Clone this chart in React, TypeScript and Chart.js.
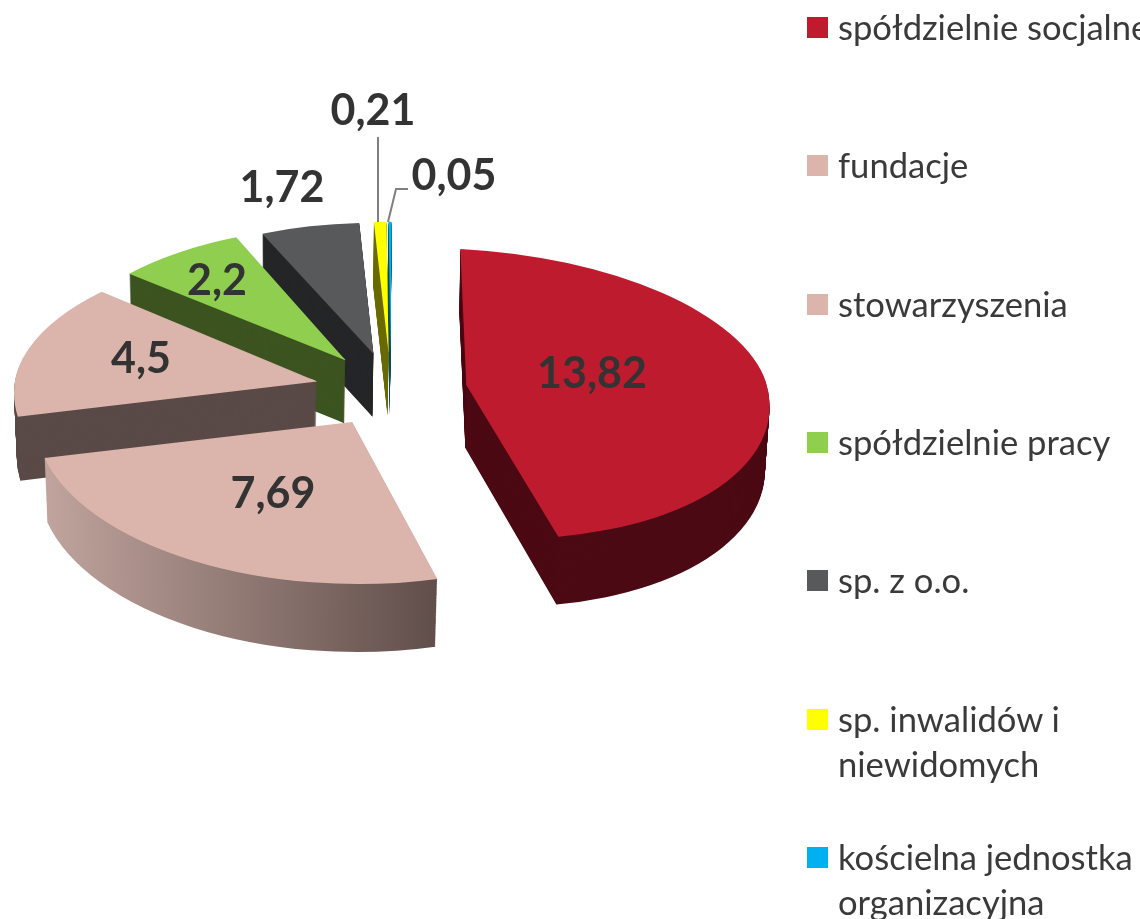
import React, { useEffect, useRef } from "react";
import Chart from "chart.js/auto";

const categories = [
  "spółdzielnie socjalne",
  "fundacje",
  "stowarzyszenia",
  "spółdzielnie pracy",
  "sp. z o.o.",
  "sp. inwalidów i\nniewidomych",
  "kościelna jednostka\norganizacyjna",
];
const values = [13.82, 7.69, 4.5, 2.2, 1.72, 0.21, 0.05];
const topColors = ["#bf1b2f", "#dbb5ac", "#dbb5ac", "#8fce4f", "#58595b", "#ffff00", "#00b0f0"];

// styling of the 3D look
const wallColors: (string | [string, string])[] = [
  "#4c0a14",
  ["#bfa39c", "#5f4d49"],
  "#5a4a47",
  "#3c5420",
  "#252628",
  "#6b6b00",
  "#00506f",
];
const wallGradientSpan = [-0.96, 0.28];
const shapes = [
  { A: 303, Bt: 6, Bb: 13, C: 15, Dt: 136, Db: 153 },
  { A: 317, Bt: 2, Bb: 2, C: 2, Dt: 150, Db: 162 },
  { A: 302, Bt: -24, Bb: -24, C: 1, Dt: 138, Db: 155 },
  { A: 289, Bt: -7, Bb: -7, C: 0, Dt: 134, Db: 150 },
  { A: 280, Bt: -1, Bb: -1, C: 0, Dt: 131, Db: 150 },
  { A: 290, Bt: -1, Bb: -1, C: 0, Dt: 131, Db: 150 },
  { A: 290, Bt: -1, Bb: -1, C: 0, Dt: 131, Db: 150 },
];
const explode = 76;
const explodeSquash = 0.49;
const depth = 63;
const drawOrder = [6, 5, 4, 3, 2, 1, 0];
const labelAnchors = [
  [592, 388],
  [273, 508],
  [141, 373],
  [217, 295],
  [282, 202],
  [373, 125],
  [454, 190],
];
const legendCentres = [27.5, 165.5, 304.5, 442.5, 580.5, 719.5, 857.5];

const pie3d = {
  id: "pie3d",
  beforeDatasetDraw(chart: any) {
    const ctx = chart.ctx as CanvasRenderingContext2D;
    const arcs = chart.getDatasetMeta(0).data;
    const piece = (arc: any, m: number[], upper: boolean) => {
      const R = arc.outerRadius;
      ctx.save();
      ctx.transform(m[0], m[1], m[2], m[3], m[4], m[5]);
      ctx.beginPath();
      if (upper) ctx.rect(arc.x - 2 * R, arc.y - 2 * R, 4 * R, 2 * R);
      else ctx.rect(arc.x - 2 * R, arc.y - 5, 4 * R, 2 * R + 5);
      ctx.clip();
      arc.draw(ctx);
      ctx.restore();
    };
    const matrix = (arc: any, ax: number, ay: number, A: number, B: number, C: number, D: number) => {
      const R = arc.outerRadius;
      const a = A / R, b = C / R, c = B / R, d = D / R;
      return [a, b, c, d, ax - a * arc.x - c * arc.y, ay - b * arc.x - d * arc.y];
    };
    for (const i of drawOrder) {
      const arc = arcs[i];
      const s = shapes[i];
      const mid = (arc.startAngle + arc.endAngle) / 2;
      const ax = arc.x + explode * Math.cos(mid);
      const ay = arc.y + explode * explodeSquash * Math.sin(mid);
      const saved = arc.options;
      const w = wallColors[i];
      let fill: any = w;
      if (Array.isArray(w)) {
        const R = arc.outerRadius;
        const g = ctx.createLinearGradient(arc.x + wallGradientSpan[0] * R, 0, arc.x + wallGradientSpan[1] * R, 0);
        g.addColorStop(0, w[0]);
        g.addColorStop(1, w[1]);
        fill = g;
      }
      arc.options = { ...saved, backgroundColor: fill };
      for (let step = depth; step >= 1; step--) {
        const t = step / depth;
        const A = s.A * (1 - 0.012 * t);
        const sx = ax - t;
        const sy = ay + step;
        piece(arc, matrix(arc, sx, sy, A, s.Bb, s.C, s.Db + 5 * t), false);
        piece(arc, matrix(arc, sx, sy, A, s.Bt, s.C, s.Dt), true);
      }
      arc.options = saved;
      piece(arc, matrix(arc, ax, ay, s.A, s.Bb, s.C, s.Db), false);
      piece(arc, matrix(arc, ax, ay, s.A, s.Bt, s.C, s.Dt), true);
    }
    return false;
  },
  afterDatasetsDraw(chart: any) {
    const ctx = chart.ctx as CanvasRenderingContext2D;
    ctx.save();
    ctx.strokeStyle = "#7f7f7f";
    ctx.lineWidth = 2;
    ctx.beginPath();
    ctx.moveTo(378, 137);
    ctx.lineTo(378, 222);
    ctx.moveTo(408, 189);
    ctx.lineTo(396, 189);
    ctx.lineTo(388, 222);
    ctx.stroke();
    ctx.fillStyle = "#333333";
    ctx.font = 'bold 43px Lato, "Open Sans", sans-serif';
    ctx.textAlign = "center";
    ctx.textBaseline = "alphabetic";
    values.forEach((v, i) => {
      ctx.fillText(String(v).replace(".", ","), labelAnchors[i][0], labelAnchors[i][1]);
    });
    ctx.restore();
  },
};

export default function App() {
  const ref = useRef<HTMLCanvasElement>(null);
  useEffect(() => {
    document.body.style.margin = "0";
    document.body.style.overflow = "hidden";
    const chart = new Chart(ref.current!, {
      type: "pie",
      data: {
        labels: categories,
        datasets: [{ data: values, backgroundColor: topColors, borderWidth: 0, clip: false } as any],
      },
      options: {
        responsive: false,
        animation: false,
        radius: 300,
        layout: { padding: { left: 0, top: 0, right: 358, bottom: 139 } },
        plugins: { legend: { display: false }, tooltip: { enabled: false } },
      } as any,
      plugins: [pie3d],
    });
    return () => chart.destroy();
  }, []);
  return (
    <div style={{ position: "relative", width: 1140, height: 919, overflow: "hidden", background: "#fff" }}>
      <canvas ref={ref} width={1140} height={919} style={{ display: "block" }} />
      {categories.map((c, i) => (
        <div key={c}>
          <div
            style={{
              position: "absolute",
              left: 807,
              top: legendCentres[i] - 10.5,
              width: 21,
              height: 21,
              background: topColors[i],
            }}
          />
          <div
            style={{
              position: "absolute",
              left: 838,
              top: legendCentres[i] - 23.5,
              fontFamily: 'Lato, "Open Sans", sans-serif',
              fontSize: 34.6,
              lineHeight: "45px",
              color: "#3a3a3a",
              whiteSpace: "pre",
            }}
          >
            {c}
          </div>
        </div>
      ))}
    </div>
  );
}
